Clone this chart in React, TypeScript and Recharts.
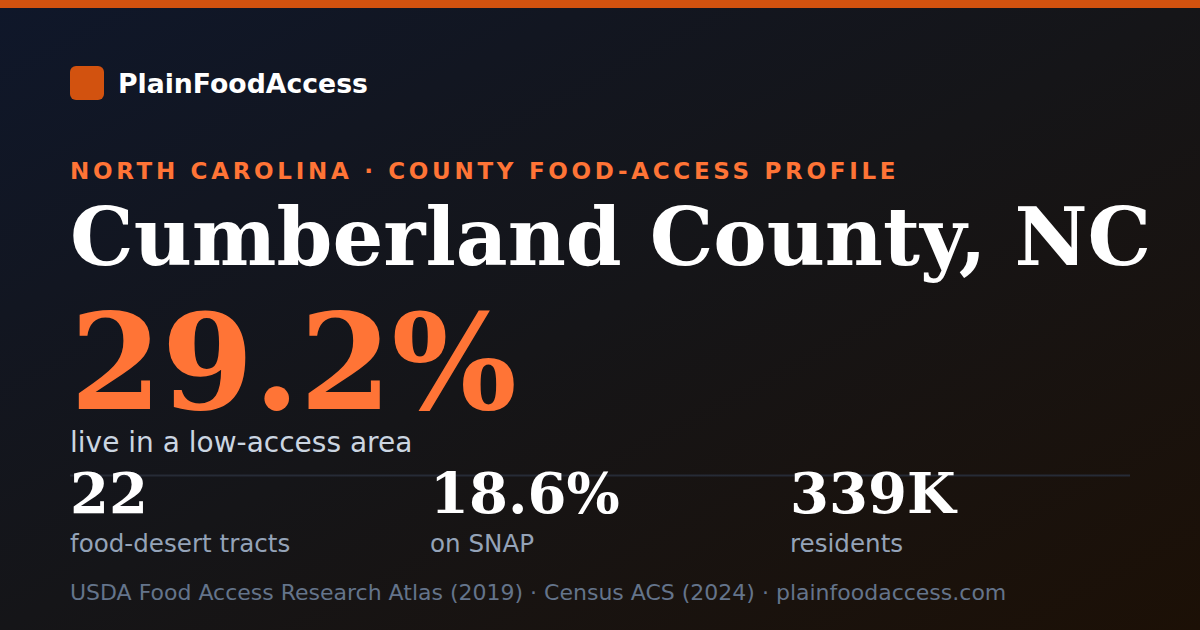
import React from "react";
import { Surface, Layer, Rectangle, Text } from "recharts";

const brandName = "PlainFoodAccess";
const eyebrow = "NORTH CAROLINA · COUNTY FOOD-ACCESS PROFILE";
const countyTitle = "Cumberland County, NC";
const headlineValue = "29.2%";
const headlineLabel = "live in a low-access area";
const statValues = ["22", "18.6%", "339K"];
const statLabels = ["food-desert tracts", "on SNAP", "residents"];
const footerText =
  "USDA Food Access Research Atlas (2019) · Census ACS (2024) · plainfoodaccess.com";

const W = 1200;
const H = 630;
const SANS = "'DejaVu Sans', sans-serif";
const SERIF = "'DejaVu Serif', serif";
const ORANGE = "#ff7436";

export default function App() {
  return (
    <div style={{ position: "absolute", left: 0, top: 0, width: W, height: H }}>
      <Surface width={W} height={H}>
        <defs>
          <linearGradient id="bg" x1="0" y1="0" x2="1" y2="1">
            <stop offset="0%" stopColor="#0f172a" />
            <stop offset="50%" stopColor="#151518" />
            <stop offset="100%" stopColor="#1c1006" />
          </linearGradient>
        </defs>
        <Rectangle x={0} y={0} width={W} height={H} fill="url(#bg)" />
        <Rectangle x={0} y={0} width={W} height={8} fill="#d2520f" />
        <Layer>
          <Rectangle x={70} y={66} width={34} height={34} radius={6} fill="#d2520f" />
          <Text x={118} y={93} fontFamily={SANS} fontWeight={700} fontSize={26.7} fill="#ffffff">
            {brandName}
          </Text>
        </Layer>
        <Text
          x={70}
          y={179}
          fontFamily={SANS}
          fontWeight={700}
          fontSize={23}
          fill={ORANGE}
          style={{ letterSpacing: "3.7px" }}
        >
          {eyebrow}
        </Text>
        <Text x={70} y={265} fontFamily={SERIF} fontWeight={700} fontSize={80} fill="#ffffff">
          {countyTitle}
        </Text>
        <Text x={70} y={409} fontFamily={SERIF} fontWeight={700} fontSize={132} fill={ORANGE}>
          {headlineValue}
        </Text>
        <Text x={70} y={452} fontFamily={SANS} fontSize={28} fill="#cbd5e1">
          {headlineLabel}
        </Text>
        <line x1={70} y1={475.5} x2={1130} y2={475.5} stroke="#262b36" strokeWidth={2} />
        {statValues.map((v, i) => (
          <Layer key={v}>
            <Text x={70 + i * 360} y={513} fontFamily={SERIF} fontWeight={700} fontSize={56} fill="#ffffff">
              {v}
            </Text>
            <Text x={70 + i * 360} y={552} fontFamily={SANS} fontSize={24.6} fill="#94a3b8">
              {statLabels[i]}
            </Text>
          </Layer>
        ))}
        <Text x={70} y={600} fontFamily={SANS} fontSize={22} fill="#64748b">
          {footerText}
        </Text>
      </Surface>
    </div>
  );
}
